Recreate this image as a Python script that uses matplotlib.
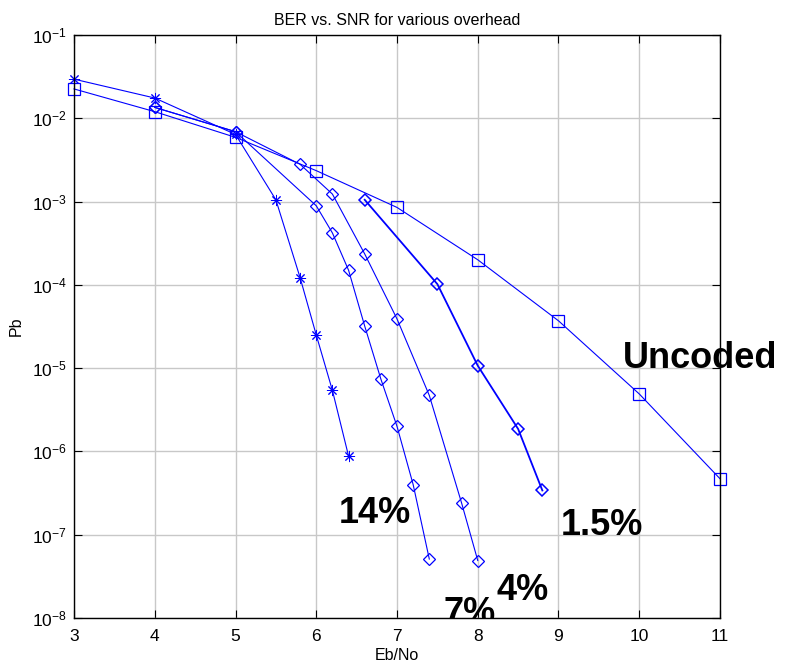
import numpy as np
import matplotlib
matplotlib.use("Agg")
import matplotlib.pyplot as plt

plt.rcParams['font.family'] = ['Liberation Sans', 'DejaVu Sans']
plt.rcParams['mathtext.fontset'] = 'custom'
plt.rcParams['mathtext.rm'] = 'Liberation Sans'
plt.rcParams['mathtext.it'] = 'Liberation Sans'

# Datos
ebno_unc = [3, 4, 5, 6, 7, 8, 9, 10, 11]
pb_unc = [2.25e-2, 1.2e-2, 5.9e-3, 2.35e-3, 8.5e-4, 2.0e-4, 3.7e-5, 4.9e-6, 4.7e-7]

ebno_14 = [3, 4, 5, 5.5, 5.8, 6.0, 6.2, 6.4]
pb_14 = [2.95e-2, 1.75e-2, 6.4e-3, 1.05e-3, 1.22e-4, 2.5e-5, 5.4e-6, 8.8e-7]

ebno_7 = [4, 5, 6.0, 6.2, 6.4, 6.6, 6.8, 7.0, 7.2, 7.4]
pb_7 = [1.35e-2, 6.9e-3, 8.9e-4, 4.2e-4, 1.5e-4, 3.2e-5, 7.4e-6, 2.0e-6, 4.0e-7, 5.1e-8]

ebno_4 = [4, 5, 5.8, 6.2, 6.6, 7.0, 7.4, 7.8, 8.0]
pb_4 = [1.35e-2, 6.9e-3, 2.8e-3, 1.23e-3, 2.35e-4, 3.9e-5, 4.7e-6, 2.4e-7, 4.9e-8]

ebno_15 = [6.6, 7.5, 8.0, 8.5, 8.8]
pb_15 = [1.05e-3, 1.02e-4, 1.07e-5, 1.86e-6, 3.4e-7]

fig = plt.figure(figsize=(7.94, 6.65), dpi=100)
ax = fig.add_axes([0.0932, 0.0707, 0.8136, 0.8767])

azul = (0, 0, 1)
asterisco = (8, 2, 0)
ax.plot(ebno_unc, pb_unc, color=azul, lw=0.8, marker='s', ms=8, mfc='none', mew=0.9, clip_on=False)
ax.plot(ebno_14, pb_14, color=azul, lw=0.8, marker=asterisco, ms=8, mew=0.7, clip_on=False)
ax.plot(ebno_7, pb_7, color=azul, lw=0.8, marker='D', ms=6, mfc='none', mew=0.9)
ax.plot(ebno_4, pb_4, color=azul, lw=0.8, marker='D', ms=6, mfc='none', mew=0.9)
ax.plot(ebno_15, pb_15, color=azul, lw=1.3, marker='D', ms=6, mfc='none', mew=1.1)

ax.set_yscale('log')
ax.set_xlim(3, 11)
ax.set_ylim(1e-8, 1e-1)
ax.set_xticks(range(3, 12))
ax.set_yticks([10.0 ** k for k in range(-8, 0)])
ax.set_yticklabels([r'$10^{%d}$' % k for k in range(-8, 0)])
ax.minorticks_off()
ax.tick_params(direction='in', top=True, right=True, length=6, width=0.8, labelsize=12.5)
ax.tick_params(axis='x', pad=8)
ax.tick_params(axis='y', pad=5)
ax.grid(True, color='#c8c8c8', lw=1.0)
for s in ax.spines.values():
    s.set_linewidth(1.0)

ax.set_title('BER vs. SNR for various overhead', fontsize=11.5, pad=7)
ax.set_xlabel('Eb/No', fontsize=11.5, labelpad=3)
ax.set_ylabel('Pb', fontsize=11.5, labelpad=6)

# Etiquetas de cada curva
etiqueta = dict(fontsize=26, fontweight='bold', ha='left', va='baseline')
ax.text(9.80, 1.0e-5, 'Uncoded', clip_on=False, **etiqueta)
ax.text(6.28, 1.38e-7, '14%', **etiqueta)
ax.text(9.03, 9.8e-8, '1.5%', **etiqueta)
ax.text(8.23, 1.66e-8, '4%', **etiqueta)
ax.text(7.57, 8.6e-9, '7%', clip_on=True, **etiqueta)

plt.savefig('out.png', dpi=100)
